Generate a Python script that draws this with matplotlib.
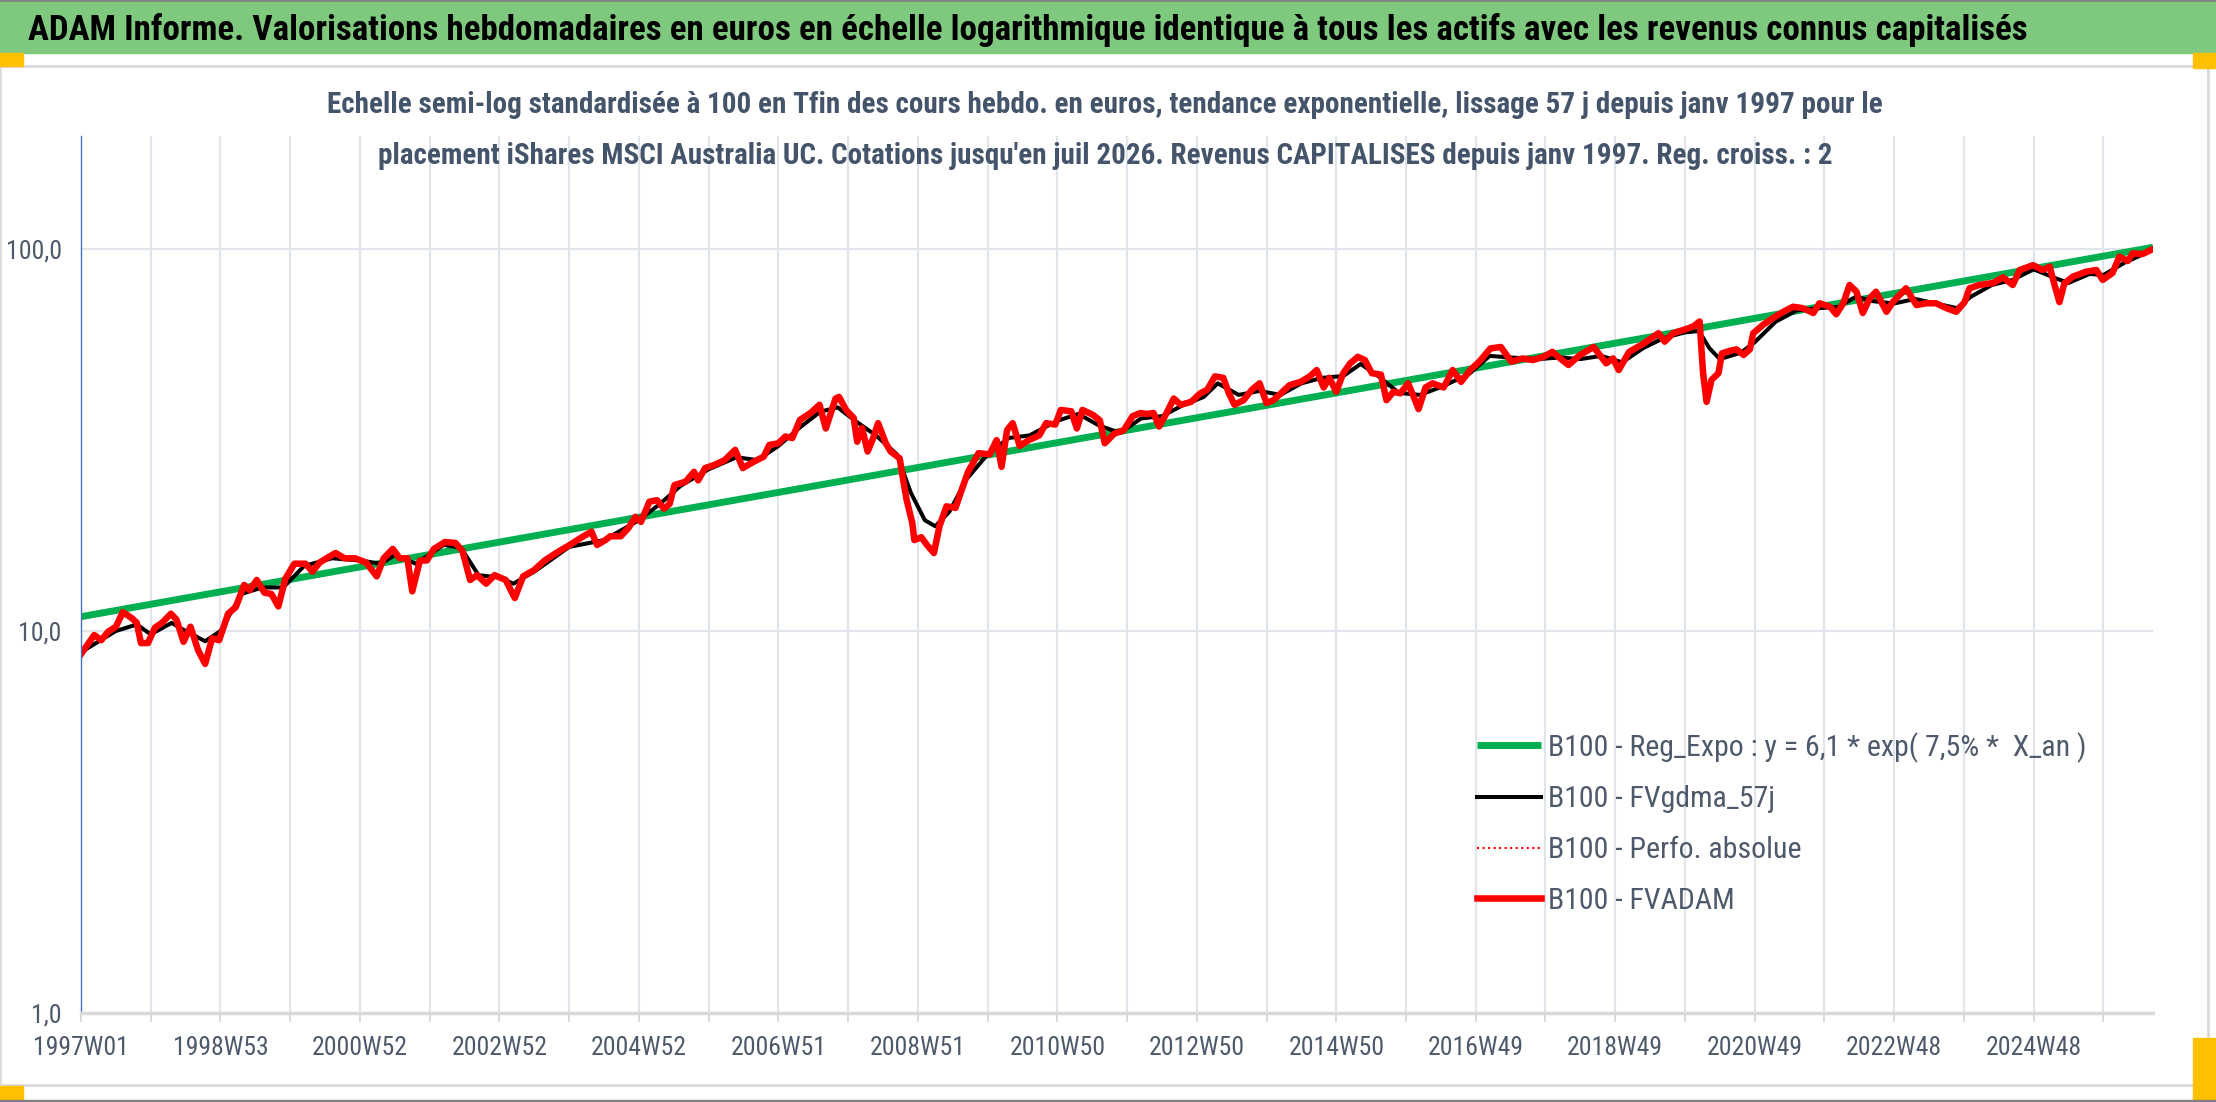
import numpy as np
import matplotlib
matplotlib.use("Agg")
import matplotlib.pyplot as plt
from matplotlib import font_manager
from matplotlib.patches import Rectangle
from matplotlib.ticker import NullLocator

W, H = 2216, 1102

# positions in 52-week steps after 1997W01, values in base 100
red_pos = [0.0, 0.19, 0.29, 0.39, 0.5, 0.6, 0.73, 0.8, 0.86, 0.96, 1.06, 1.16, 1.29, 1.37, 1.47,
           1.57, 1.68, 1.78, 1.88, 1.98, 2.11, 2.22, 2.34, 2.42, 2.52, 2.63, 2.73, 2.83, 2.93, 3.06,
           3.22, 3.32, 3.42, 3.52, 3.65, 3.78, 3.93, 4.09, 4.24, 4.34, 4.47, 4.57, 4.68, 4.75, 4.86,
           4.96, 5.06, 5.22, 5.37, 5.47, 5.58, 5.68, 5.81, 5.93, 6.09, 6.22, 6.34, 6.5, 6.65, 6.86,
           7.01, 7.16, 7.32, 7.4, 7.52, 7.59, 7.74, 7.85, 7.95, 8.03, 8.15, 8.26, 8.36, 8.44, 8.51,
           8.67, 8.79, 8.85, 8.95, 9.08, 9.23, 9.38, 9.49, 9.64, 9.79, 9.87, 10.0, 10.1, 10.2, 10.31,
           10.46, 10.59, 10.68, 10.82, 10.87, 10.97, 11.08, 11.13, 11.2, 11.28, 11.36, 11.43, 11.54,
           11.61, 11.74, 11.79, 11.84, 11.92, 11.95, 12.05, 12.13, 12.23, 12.31, 12.41, 12.54, 12.61,
           12.72, 12.87, 13.03, 13.13, 13.2, 13.28, 13.36, 13.46, 13.59, 13.74, 13.84, 13.97, 14.05,
           14.2, 14.28, 14.36, 14.51, 14.61, 14.68, 14.82, 14.95, 15.08, 15.19, 15.28, 15.38, 15.46,
           15.56, 15.67, 15.77, 15.92, 16.05, 16.15, 16.26, 16.38, 16.46, 16.54, 16.67, 16.79, 16.9,
           17.0, 17.1, 17.23, 17.33, 17.49, 17.62, 17.72, 17.82, 17.9, 18.0, 18.1, 18.2, 18.31, 18.41,
           18.51, 18.64, 18.72, 18.82, 18.92, 19.03, 19.13, 19.18, 19.28, 19.38, 19.54, 19.67, 19.79,
           19.92, 20.05, 20.21, 20.36, 20.51, 20.67, 20.82, 20.97, 21.1, 21.21, 21.33, 21.49, 21.69,
           21.87, 21.97, 22.05, 22.2, 22.41, 22.62, 22.71, 22.83, 22.98, 23.12, 23.21, 23.26, 23.31,
           23.38, 23.48, 23.53, 23.64, 23.74, 23.84, 23.93, 23.98, 24.12, 24.26, 24.41, 24.55, 24.69,
           24.84, 24.93, 25.08, 25.17, 25.27, 25.36, 25.46, 25.55, 25.65, 25.74, 25.89, 25.98, 26.17,
           26.32, 26.46, 26.6, 26.75, 26.89, 27.01, 27.08, 27.22, 27.42, 27.56, 27.7, 27.8, 27.99,
           28.13, 28.23, 28.3, 28.37, 28.44, 28.56, 28.75, 28.9, 28.99, 29.13, 29.23, 29.35, 29.42,
           29.56, 29.68, 29.71]
red_val = [8.7, 9.76, 9.46, 9.96, 10.26, 11.2, 10.8, 10.5, 9.3, 9.3, 10.2, 10.5, 11.1, 10.7, 9.37,
           10.26, 8.9, 8.2, 9.57, 9.46, 11.1, 11.55, 13.2, 12.8, 13.6, 12.6, 12.5, 11.6, 13.7, 15.0,
           15.0, 14.3, 15.1, 15.5, 16.0, 15.5, 15.5, 15.1, 13.9, 15.5, 16.4, 15.5, 15.5, 12.7, 15.3,
           15.3, 16.4, 17.1, 17.0, 16.2, 13.6, 14.0, 13.3, 14.0, 13.6, 12.2, 13.9, 14.45, 15.3, 16.2,
           16.8, 17.5, 18.2, 16.8, 17.3, 17.7, 17.7, 18.6, 19.9, 19.3, 21.8, 22.0, 20.9, 21.5, 24.1,
           24.6, 26.1, 24.8, 26.7, 27.2, 28.0, 29.8, 26.7, 27.7, 28.6, 30.7, 31.0, 32.3, 32.0, 35.7,
           37.2, 39.1, 33.9, 40.6, 41.0, 37.9, 36.1, 31.3, 34.0, 29.5, 32.0, 35.0, 31.0,
           29.5, 28.3, 24.8, 22.0, 19.2, 17.3, 17.6, 16.8, 16.0, 18.8, 21.2, 21.0, 22.9,
           26.1, 29.2, 29.0, 31.6, 26.9, 33.6, 35.0, 30.5, 31.6, 32.5, 35.0, 34.7, 37.9,
           37.6, 33.9, 37.9, 36.8, 35.6, 31.0, 32.9, 33.5, 36.5, 37.2, 37.0, 37.2, 34.3,
           37.0, 40.6, 39.1, 39.8, 41.9, 42.8, 46.4, 46.0, 41.9, 39.1, 40.2, 42.8, 44.5,
           39.5, 40.2, 42.3, 44.0, 44.9, 46.4, 48.2, 43.4, 46.0, 42.3, 47.3, 50.2, 52.2, 51.2,
           47.3, 46.9, 40.2, 42.3, 41.9, 44.5, 40.2, 38.1, 43.4, 44.5, 43.4, 48.2, 44.9,
           48.2, 50.7, 54.9, 55.4, 50.7, 51.7, 51.2, 52.2, 53.8, 51.7, 49.7, 52.7, 55.4,
           50.2, 51.7, 48.2, 53.8, 56.6, 60.2, 57.2, 60.2, 61.4, 62.7, 64.6, 47.3, 39.8,
           45.4, 47.3, 53.3, 54.1, 54.6, 52.8, 54.6, 60.2, 63.3, 65.9, 68.5, 70.6, 70.0,
           68.0, 72.1, 70.6, 67.5, 72.1, 80.5, 77.3, 68.0, 74.3, 77.3, 68.5, 72.6, 78.9,
           71.3, 72.1, 72.1, 70.0, 68.5, 72.6, 78.9, 80.5, 81.5, 84.3, 80.5, 88.1, 90.7,
           88.1, 89.9, 80.5, 72.6, 81.2, 84.6, 87.2, 88.1, 83.0, 86.5, 95.5, 93.0, 97.4,
           97.0, 99.4, 100.0]

# smoothed (57 days) series, mostly hidden under the red one
black_pos = [0.0, 0.5, 0.8, 1.0, 1.3, 1.5, 1.78, 2.0, 2.3, 2.6, 2.9, 3.2, 3.6, 4.0, 4.3, 4.5, 4.8,
             5.2, 5.45, 5.7, 6.0, 6.2, 6.5, 7.0, 7.5, 8.0, 8.3, 8.6, 9.0, 9.4, 9.7, 10.0, 10.3,
             10.6, 10.85, 11.1, 11.4, 11.7, 11.9, 12.1, 12.25, 12.45, 12.7, 13.0, 13.3, 13.6, 14.0,
             14.3, 14.6, 14.9, 15.2, 15.5, 15.8, 16.1, 16.3, 16.6, 16.9, 17.2, 17.5, 17.8, 18.1,
             18.35, 18.6, 18.9, 19.2, 19.5, 19.9, 20.2, 20.5, 20.9, 21.2, 21.5, 21.8, 22.1, 22.4,
             22.7, 23.0, 23.2, 23.35, 23.5, 23.8, 24.0, 24.3, 24.6, 24.9, 25.2, 25.45, 25.7, 26.0,
             26.3, 26.6, 26.9, 27.1, 27.4, 27.7, 28.0, 28.3, 28.5, 28.8, 29.0, 29.3, 29.71]
black_val = [8.8, 10.0, 10.4, 9.8, 10.5, 10.0, 9.4, 10.0, 12.5, 13.0, 13.0, 14.8, 15.5, 15.3, 15.0,
             15.8, 15.0, 16.8, 16.5, 14.0, 13.8, 13.3, 14.3, 16.6, 17.3, 19.5, 21.5, 24.0, 26.5,
             28.5, 28.0, 30.5, 34.0, 37.5, 38.5, 35.5, 32.5, 29.0, 23.0, 19.5, 18.8, 20.5, 25.0,
             29.0, 32.0, 32.5, 35.5, 37.0, 34.5, 33.0, 36.0, 36.5, 39.0, 41.0, 44.5, 41.5, 42.5,
             41.5, 44.5, 46.0, 46.5, 50.0, 46.5, 42.0, 41.5, 43.5, 47.0, 52.5, 52.0, 51.5, 52.0,
             51.5, 52.5, 50.5, 55.0, 58.5, 60.5, 61.0, 55.0, 51.5, 53.5, 57.0, 64.5, 69.0, 70.0,
             70.5, 75.0, 73.0, 72.0, 74.0, 72.0, 70.0, 75.0, 80.5, 83.0, 88.5, 84.0, 81.5, 86.0,
             85.5, 92.0, 99.5]

# exponential trend, straight on the log scale
trend_pos = [0.0, 29.71]
trend_val = [10.9, 101.0]

x_labels = ["1997W01", "1998W53", "2000W52", "2002W52", "2004W52", "2006W51", "2008W51",
            "2010W50", "2012W50", "2014W50", "2016W49", "2018W49", "2020W49", "2022W48", "2024W48"]
y_ticks = [1, 10, 100]
y_labels = ["1,0", "10,0", "100,0"]
legend_labels = ["B100 - Reg_Expo : y = 6,1 * exp( 7,5% *  X_an )", "B100 - FVgdma_57j",
                 "B100 - Perfo. absolue", "B100 - FVADAM"]

title = ("ADAM Informe. Valorisations hebdomadaires en euros en échelle logarithmique "
         "identique à tous les actifs avec les revenus connus capitalisés")
sub1 = ("Echelle semi-log standardisée à 100 en Tfin des cours hebdo. en euros, tendance "
        "exponentielle, lissage 57 j depuis janv 1997 pour le")
sub2 = ("placement iShares MSCI Australia UC. Cotations jusqu'en juil 2026. Revenus "
        "CAPITALISES depuis janv 1997. Reg. croiss. : 2")

# pick a narrow font if there is one
installed = {f.name for f in font_manager.fontManager.ttflist}
font = "DejaVu Sans"
for name in ["Liberation Sans Narrow", "Noto Sans Condensed", "Roboto Condensed",
             "Open Sans Condensed", "Noto Sans"]:
    if name in installed:
        font = name
        break
plt.rcParams["font.family"] = [font, "DejaVu Sans"]

WEEKS = 52
txt_col = "#4E5A6B"
grid_col = "#E0E4EB"


def fx(px):
    return px / W


def fy(py):
    return 1 - py / H


fig = plt.figure(figsize=(W / 100, H / 100), dpi=100)

# banner, frame and corner marks
fig.patches.append(Rectangle((0, fy(2)), 1, 2 / H, transform=fig.transFigure, color="#7F7F7F"))
fig.patches.append(Rectangle((0, fy(53)), 1, 51 / H, transform=fig.transFigure, color="#7FC97F"))
fig.patches.append(Rectangle((0, fy(1085)), fx(2208), (1085 - 66) / H, transform=fig.transFigure,
                             fill=False, edgecolor="#D9D9D9", lw=2))
for x0, y0, w, h in [(0, 53, 23, 13), (2193, 53, 23, 15), (0, 1086, 23, 14), (2193, 1038, 23, 62)]:
    fig.patches.append(Rectangle((fx(x0), fy(y0 + h)), w / W, h / H, transform=fig.transFigure,
                                 color="#FFC000"))
fig.patches.append(Rectangle((0, 0), 1, 2 / H, transform=fig.transFigure, color="#7F7F7F"))

ax = fig.add_axes([fx(81), fy(1013), (2153 - 81) / W, (1013 - 136) / H])
ax.set_yscale("log")

ax.plot(np.array(trend_pos) * WEEKS, trend_val, color="#00B050", lw=5.0, solid_capstyle="butt",
        label=legend_labels[0])
ax.plot(np.array(black_pos) * WEEKS, black_val, color="black", lw=2.9, label=legend_labels[1])
ax.plot(np.array(red_pos) * WEEKS, red_val, color="red", lw=1.5, ls=":", label=legend_labels[2])
ax.plot(np.array(red_pos) * WEEKS, red_val, color="red", lw=4.7, label=legend_labels[3])

ax.set_xlim(0, 1545)
ax.set_ylim(1, 197.6)

ax.set_xticks(np.arange(len(x_labels)) * 2 * WEEKS)
ax.set_xticklabels(x_labels)
ax.set_xticks(np.arange(0, 1545, WEEKS), minor=True)
ax.set_yticks(y_ticks)
ax.set_yticklabels(y_labels)
ax.yaxis.set_minor_locator(NullLocator())

ax.grid(which="both", axis="x", color=grid_col, lw=1.5)
ax.grid(which="major", axis="y", color=grid_col, lw=1.5)
ax.set_axisbelow(True)

ax.tick_params(axis="x", which="both", length=6.5, width=1.4, color="#D9D9D9",
               labelsize=18.5, labelcolor=txt_col, pad=10)
ax.tick_params(axis="y", length=0, labelsize=18.5, labelcolor=txt_col, pad=14)

for s in ["top", "right"]:
    ax.spines[s].set_visible(False)
ax.spines["left"].set_color("#4472C4")
ax.spines["left"].set_linewidth(1.0)
ax.spines["bottom"].set_color("#D9D9D9")
ax.spines["bottom"].set_linewidth(2.5)

leg = ax.legend(loc="upper left", bbox_to_anchor=(fx(1477), fy(732)), bbox_transform=fig.transFigure,
                frameon=False, fontsize=21.5, handlelength=2.14, handletextpad=0.23,
                labelspacing=0.76, borderpad=0, borderaxespad=0, labelcolor=txt_col)

fig.text(fx(28), fy(40), title, fontsize=25.2, fontweight="bold", color="black", va="baseline")
fig.text(fx(1105), fy(113), sub1, fontsize=21, fontweight="bold", color="#44546A",
         ha="center", va="baseline")
fig.text(fx(1105), fy(164), sub2, fontsize=21, fontweight="bold", color="#44546A",
         ha="center", va="baseline")

fig.savefig("out.png", dpi=100)
